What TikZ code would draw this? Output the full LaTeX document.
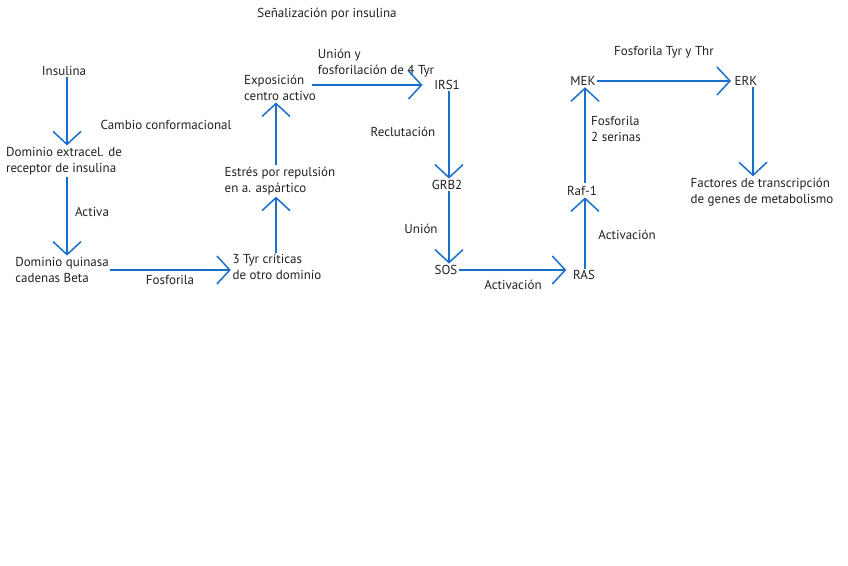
\documentclass[tikz,border=0pt]{standalone}
\usepackage{fontspec}
\setmainfont{PT Sans}
\usetikzlibrary{arrows.meta}
\definecolor{arrblue}{HTML}{1A6FCC}
\definecolor{txt}{HTML}{222222}
\tikzset{
  lbl/.style={text=txt, font=\fontsize{13}{16}\selectfont, inner sep=1.5pt, align=left},
  arr/.style={draw=arrblue, line width=1.5pt, -{Straight Barb[length=13pt,width=28pt,line width=1.5pt]}}
}
\begin{document}
\begin{tikzpicture}[x=1pt,y=-1pt]
\useasboundingbox[fill=white] (0,0) rectangle (848,565);
\node[lbl] (title) at (327,14) {Señalización por insulina};
\node[lbl] (ins) at (64,71) {Insulina};
\node[lbl] (dex) at (64,161) {Dominio extracel. de\\receptor de insulina};
\node[lbl] (dqc) at (62,270) {Dominio quinasa\\cadenas Beta};
\node[lbl] (tyr) at (277,267) {3 Tyr críticas\\de otro dominio};
\node[lbl] (est) at (280,181) {Estrés por repulsión\\en a. aspártico};
\node[lbl] (exp) at (280,88) {Exposición\\centro activo};
\node[lbl] (irs) at (447,85) {IRS1};
\node[lbl] (grb) at (447,185) {GRB2};
\node[lbl] (sos) at (446,270) {SOS};
\node[lbl] (ras) at (584,275) {RAS};
\node[lbl] (raf) at (582,191) {Raf-1};
\node[lbl] (mek) at (583,81) {MEK};
\node[lbl] (erk) at (746,81) {ERK};
\node[lbl] (fac) at (762,192) {Factores de transcripción\\de genes de metabolismo};
% edge labels
\node[lbl] (lact) at (92,212) {Activa};
\node[lbl] (lfos) at (170,280) {Fosforila};
\node[lbl] (lcam) at (166,125) {Cambio conformacional};
\node[lbl] (luni) at (376,63) {Unión y\\fosforilación de 4 Tyr};
\node[lbl] (lrec) at (403,132) {Reclutación};
\node[lbl] (lun2) at (421,229) {Unión};
\node[lbl] (lac1) at (513,285) {Activación};
\node[lbl] (lac2) at (627,235) {Activación};
\node[lbl] (lfo2) at (616,129) {Fosforila\\2 serinas};
\node[lbl] (lfo3) at (664,52) {Fosforila Tyr y Thr};
% connectors
\draw[arr] ([xshift=3pt]ins.south) -- ([xshift=3pt]ins.south |- dex.north);
\draw[arr] ([xshift=3pt]dex.south) -- ([xshift=3pt]dex.south |- dqc.north);
\draw[arr] (dqc.east) -- (dqc.east -| tyr.west);
\draw[arr] ([xshift=-1pt]tyr.north) -- ([xshift=-1pt]tyr.north |- est.south);
\draw[arr] ([xshift=-4pt]est.north) -- ([xshift=-4pt]est.north |- exp.south);
\draw[arr, shorten <=-6pt, shorten >=10pt] ([yshift=3pt]exp.east) -- ([yshift=3pt]exp.east -| irs.west);
\draw[arr] ([xshift=2pt]irs.south) -- ([xshift=2pt]irs.south |- grb.north);
\draw[arr] ([xshift=2pt]grb.south) -- ([xshift=2pt]grb.south |- sos.north);
\draw[arr, shorten >=5pt] (sos.east) -- (sos.east -| ras.west);
\draw[arr] ([xshift=1pt]ras.north) -- ([xshift=1pt]ras.north |- raf.south);
\draw[arr, shorten <=2pt] ([xshift=3pt]raf.north) -- ([xshift=3pt]raf.north |- mek.south);
\draw[arr, shorten >=2pt] (mek.east) -- (erk.west);
\draw[arr] ([xshift=7pt]erk.south) -- ([xshift=7pt]erk.south |- fac.north);
\end{tikzpicture}
\end{document}
